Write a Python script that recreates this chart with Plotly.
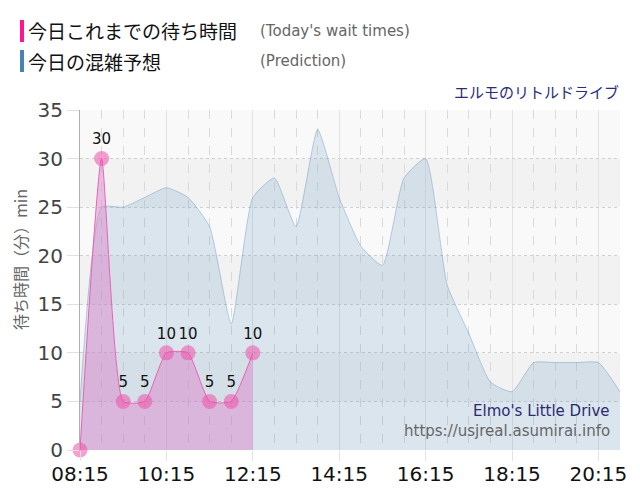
import plotly.graph_objects as go

# ---- data ----
actual_times = ["08:15", "08:45", "09:15", "09:45", "10:15", "10:45", "11:15", "11:45", "12:15"]
actual_waits = [0, 30, 5, 5, 10, 10, 5, 5, 10]

pred_times = ["08:15", "08:45", "09:15", "09:45", "10:15", "10:45", "11:15", "11:45",
              "12:15", "12:45", "13:15", "13:45", "14:15", "14:45", "15:15", "15:45",
              "16:15", "16:45", "17:15", "17:45", "18:15", "18:45", "19:15", "19:45",
              "20:15", "20:45"]
pred_waits = [5, 25, 25, 26, 27, 26, 23, 13, 26, 28, 23, 33, 26, 21, 19, 28,
              30, 17, 12, 7, 6, 9, 9, 9, 9, 6]

x_ticks = ["08:15", "10:15", "12:15", "14:15", "16:15", "18:15", "20:15"]
y_ticks = [0, 5, 10, 15, 20, 25, 30, 35]

DAY = "2024-01-01 "
def d(t):
    return DAY + t

fig = go.Figure()

fig.add_trace(go.Scatter(
    x=[d(t) for t in pred_times], y=pred_waits,
    mode="lines", line=dict(color="rgba(70,130,180,0.35)", width=1, shape="spline", smoothing=0.5),
    fill="tozeroy", fillcolor="rgba(70,130,180,0.17)", hoverinfo="skip", showlegend=False,
))

fig.add_trace(go.Scatter(
    x=[d(t) for t in actual_times], y=actual_waits,
    mode="lines+markers+text",
    line=dict(color="#ea62b6", width=1, shape="spline", smoothing=0.5),
    fill="tozeroy", fillcolor="rgba(220,125,200,0.45)",
    marker=dict(size=15, color="rgba(238,80,170,0.55)", line=dict(width=0)),
    text=[str(v) if v > 0 else "" for v in actual_waits],
    textposition="top center",
    textfont=dict(family="DejaVu Sans", size=15, color="#111"),
    cliponaxis=False,
    showlegend=False,
))

# page body has an 8px margin, so the figure is offset by 8px
OFF = 8
L, T, R, B = 80 - OFF, 110 - OFF, 20, 50
W, H = 640 - OFF, 500 - OFF
PW = W - L - R
PH = H - T - B

def px(x):
    return (x - OFF - L) / PW
def py(y):
    return (H - B - (y - OFF)) / PH

shapes = []
for lo in [5, 15, 25]:
    shapes.append(dict(type="rect", xref="paper", yref="y", x0=0, x1=1, y0=lo, y1=lo + 5,
                       fillcolor="#f2f2f2", line_width=0, layer="below"))
shapes.append(dict(type="rect", xref="paper", yref="paper", x0=px(20), x1=px(24), y0=py(42), y1=py(20),
                   fillcolor="#ff1493", line_width=0))
shapes.append(dict(type="rect", xref="paper", yref="paper", x0=px(20), x1=px(24), y0=py(72), y1=py(50),
                   fillcolor="#4682b4", line_width=0))

cjk = "Noto Sans CJK JP"
ann = [
    dict(x=px(26), y=py(31), text="今日これまでの待ち時間", xanchor="left", yanchor="middle",
         font=dict(family=cjk, size=19, color="#111")),
    dict(x=px(258), y=py(31), text="(Today's wait times)", xanchor="left", yanchor="middle",
         font=dict(family="DejaVu Sans", size=15, color="#666")),
    dict(x=px(26), y=py(61), text="今日の混雑予想", xanchor="left", yanchor="middle",
         font=dict(family=cjk, size=19, color="#111")),
    dict(x=px(258), y=py(61), text="(Prediction)", xanchor="left", yanchor="middle",
         font=dict(family="DejaVu Sans", size=15, color="#666")),
    dict(x=px(621), y=py(91), text="エルモのリトルドライブ", xanchor="right", yanchor="middle",
         font=dict(family=cjk, size=15, color="#2b2b7a")),
    dict(x=px(612), y=py(411), text="Elmo's Little Drive", xanchor="right", yanchor="middle",
         font=dict(family="DejaVu Sans", size=15, color="#2b2b70")),
    dict(x=px(612), y=py(431), text="https://usjreal.asumirai.info", xanchor="right", yanchor="middle",
         font=dict(family="DejaVu Sans", size=15, color="#666")),
    dict(x=px(20), y=py(260), text="待ち時間（分）min", textangle=-90, xanchor="center", yanchor="middle",
         font=dict(family=cjk, size=16, color="#666")),
]
for a in ann:
    a.update(xref="paper", yref="paper", showarrow=False)

fig.update_layout(
    width=W, height=H,
    margin=dict(l=L, r=R, t=T, b=B, autoexpand=False),
    paper_bgcolor="white", plot_bgcolor="#f9f9f9",
    shapes=shapes, annotations=ann,
    showlegend=False,
)

fig.update_xaxes(
    type="date", range=[d("08:15"), d("20:45")],
    tickvals=[d(t) for t in x_ticks], ticktext=x_ticks,
    tickfont=dict(family="DejaVu Sans", size=20, color="#111"),
    showgrid=True, gridcolor="#e2e2e2", gridwidth=1,
    ticks="outside", ticklen=10, tickcolor="#e2e2e2", ticklabelstandoff=-4,
    showline=False, zeroline=False, automargin=False,
    minor=dict(dtick=30 * 60 * 1000, tick0=d("08:15"), showgrid=True,
               gridcolor="#dadada", griddash="dash", gridwidth=1),
)
fig.update_yaxes(
    range=[0, 35], tickvals=y_ticks,
    tickfont=dict(family="DejaVu Sans", size=20, color="#444"),
    showgrid=True, gridcolor="#d0d0d0", griddash="dot", gridwidth=1,
    ticks="outside", ticklen=12, tickcolor="#e0e0e0",
    showline=True, linecolor="#b0b0b0", linewidth=1,
    zeroline=False, automargin=False,
)

fig.write_html("out.html")
